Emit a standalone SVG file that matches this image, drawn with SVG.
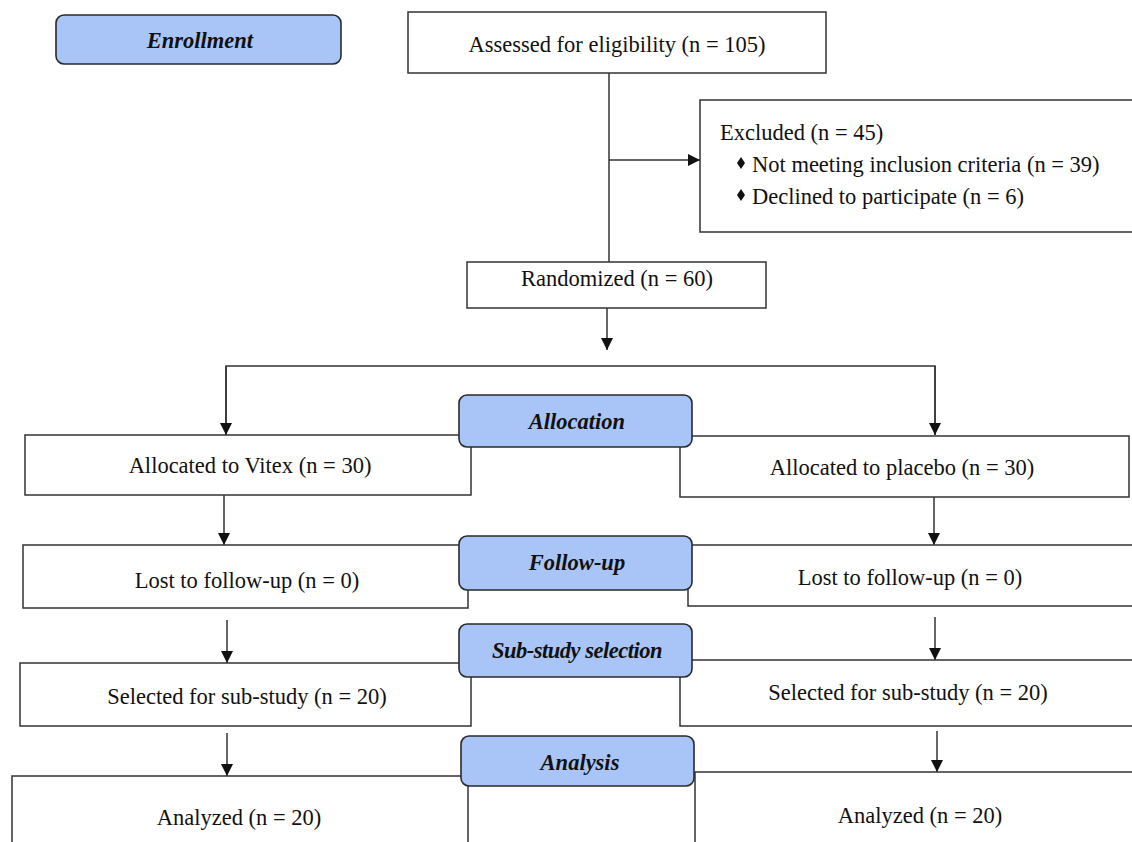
<svg xmlns="http://www.w3.org/2000/svg" width="1132" height="842" viewBox="0 0 1132 842">
<defs>
<style>
.box{fill:#fff;stroke:#333;stroke-width:1.5}
.stage{fill:#a9c5f7;stroke:#2a2a2a;stroke-width:1.6}
.t{font-family:"Liberation Serif","Times New Roman",serif;font-size:22.5px;fill:#111;text-anchor:middle;dominant-baseline:central}
.tl{font-family:"Liberation Serif","Times New Roman",serif;font-size:22.5px;fill:#111;dominant-baseline:central}
.st{font-family:"Liberation Serif","Times New Roman",serif;font-size:22.5px;font-weight:bold;font-style:italic;fill:#111;text-anchor:middle;dominant-baseline:central}
.ln{fill:none;stroke:#333;stroke-width:1.5}
.bul{fill:#111}
</style>
<marker id="ah" markerWidth="12" markerHeight="12" viewBox="0 0 12 12" refX="12" refY="6" orient="auto" markerUnits="userSpaceOnUse">
<path d="M0,0 L12,6 L0,12 Z" fill="#111"/>
</marker>
</defs>
<rect width="1132" height="842" fill="#fff"/>

<g id="connectors">
<line class="ln" x1="609" y1="73" x2="609" y2="262"/>
<line class="ln" x1="609" y1="160" x2="700" y2="160" marker-end="url(#ah)"/>
<line class="ln" x1="607" y1="308" x2="607" y2="350" marker-end="url(#ah)"/>
<polyline class="ln" points="226,435 226,366 935,366 935,435"/>
<line class="ln" x1="226" y1="366" x2="226" y2="435" marker-end="url(#ah)"/>
<line class="ln" x1="935" y1="366" x2="935" y2="435" marker-end="url(#ah)"/>
<line class="ln" x1="224" y1="495" x2="224" y2="545" marker-end="url(#ah)"/>
<line class="ln" x1="934" y1="497" x2="934" y2="545" marker-end="url(#ah)"/>
<line class="ln" x1="227" y1="620" x2="227" y2="663" marker-end="url(#ah)"/>
<line class="ln" x1="935" y1="617" x2="935" y2="660" marker-end="url(#ah)"/>
<line class="ln" x1="227" y1="733" x2="227" y2="776" marker-end="url(#ah)"/>
<line class="ln" x1="937" y1="731" x2="937" y2="772" marker-end="url(#ah)"/>
</g>

<g id="enrollment">
<rect class="stage" x="56" y="15" width="285" height="49" rx="8"/>
<text class="st" x="200" y="40">Enrollment</text>
</g>

<g id="assessed">
<rect class="box" x="408" y="12" width="418" height="61"/>
<text class="t" x="617" y="44">Assessed for eligibility (n = 105)</text>
</g>

<g id="excluded">
<rect class="box" x="700" y="100" width="440" height="132"/>
<text class="tl" x="720" y="132">Excluded (n = 45)</text>
<polygon class="bul" points="741,157 745,163 741,169 737,163"/>
<text class="tl" x="752" y="164">Not meeting inclusion criteria (n = 39)</text>
<polygon class="bul" points="741,189 745,195 741,201 737,195"/>
<text class="tl" x="752" y="196">Declined to participate (n = 6)</text>
</g>

<g id="randomized">
<rect class="box" x="467" y="262" width="299" height="46"/>
<text class="t" x="617" y="278">Randomized (n = 60)</text>
</g>

<g id="vitex">
<rect class="box" x="25" y="435" width="446" height="60"/>
<text class="t" x="250" y="465">Allocated to Vitex (n = 30)</text>
</g>

<g id="placebo">
<rect class="box" x="680" y="436" width="449" height="61"/>
<text class="t" x="902" y="467">Allocated to placebo (n = 30)</text>
</g>

<g id="allocation">
<rect class="stage" x="459" y="395" width="233" height="52" rx="8"/>
<text class="st" x="577" y="421">Allocation</text>
</g>

<g id="lost-left">
<rect class="box" x="23" y="545" width="445" height="63"/>
<text class="t" x="247" y="580">Lost to follow-up (n = 0)</text>
</g>

<g id="lost-right">
<rect class="box" x="688" y="545" width="460" height="61"/>
<text class="t" x="910" y="577">Lost to follow-up (n = 0)</text>
</g>

<g id="followup">
<rect class="stage" x="459" y="536" width="233" height="54" rx="8"/>
<text class="st" x="577" y="562">Follow-up</text>
</g>

<g id="selected-left">
<rect class="box" x="20" y="663" width="451" height="63"/>
<text class="t" x="247" y="696">Selected for sub-study (n = 20)</text>
</g>

<g id="selected-right">
<rect class="box" x="680" y="660" width="460" height="66"/>
<text class="t" x="908" y="692">Selected for sub-study (n = 20)</text>
</g>

<g id="substudy">
<rect class="stage" x="459" y="624" width="233" height="53" rx="8"/>
<text class="st" x="577" y="650" letter-spacing="-0.5">Sub-study selection</text>
</g>

<g id="analyzed-left">
<rect class="box" x="12" y="776" width="456" height="80"/>
<text class="t" x="239" y="817">Analyzed (n = 20)</text>
</g>

<g id="analyzed-right">
<rect class="box" x="695" y="772" width="450" height="84"/>
<text class="t" x="920" y="815">Analyzed (n = 20)</text>
</g>

<g id="analysis">
<rect class="stage" x="461" y="736" width="233" height="50" rx="8"/>
<text class="st" x="580" y="762">Analysis</text>
</g>
</svg>
